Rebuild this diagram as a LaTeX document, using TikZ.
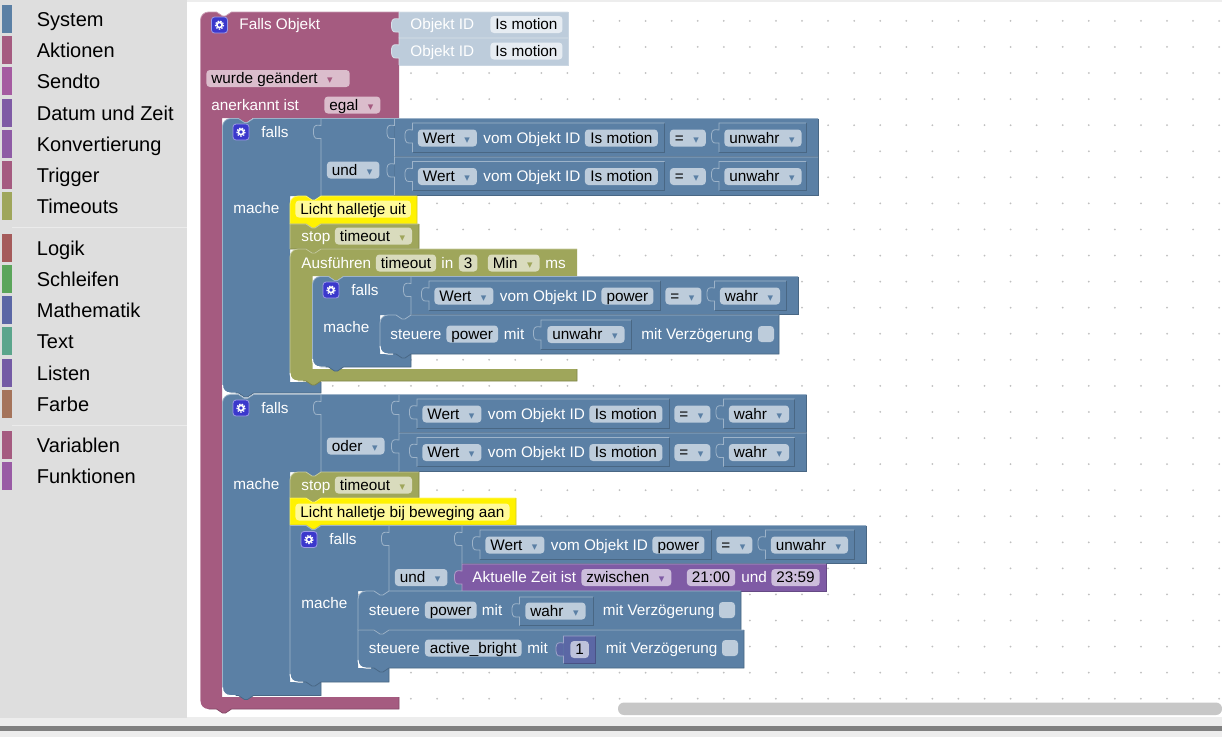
\documentclass[tikz,border=0pt]{standalone}
\usepackage{fontspec}
\setmainfont{Liberation Sans}
\newfontfamily\arrowfont{DejaVu Sans}
\usepackage{tikz}
\definecolor{blockblue}{HTML}{5B80A5}
\definecolor{blockmauve}{HTML}{A55B80}
\definecolor{blockolive}{HTML}{9FA65B}
\definecolor{blockpurple}{HTML}{7F5BA5}
\definecolor{blocknumber}{HTML}{5B67A5}
\definecolor{catsendto}{HTML}{A55BA1}
\definecolor{catconvert}{HTML}{8E5BA5}
\definecolor{catlogic}{HTML}{A55B5B}
\definecolor{catloop}{HTML}{5BA55B}
\definecolor{cattext}{HTML}{5BA58C}
\definecolor{catlist}{HTML}{745BA5}
\definecolor{catcolour}{HTML}{A5745B}
\definecolor{catfunc}{HTML}{995BA5}
\definecolor{gearfill}{HTML}{3B38CC}
\newcommand{\dropmark}[1]{\makebox[17pt][r]{\textcolor{#1}{\arrowfont\fontsize{11}{11}\selectfont ▾}\hspace*{2pt}}}
\newcommand{\topnotch}[2]{-- (#1+16,#2) -- (#1+22,#2+4) -- (#1+25,#2+4) -- (#1+31,#2)}
\newcommand{\bottomnotch}[2]{-- (#1+31,#2) -- (#1+25,#2+4) -- (#1+22,#2+4) -- (#1+16,#2)}
\newcommand{\category}[4]{
  \fill[#3] (2,#2-14) rectangle (12,#2+14);
  \node[menutext] (#1) at (36.5,#2) {#4};}
\newcommand{\gearicon}[3]{
  \node[gearbox] (#1) at (#2,#3) {};
  \draw[white,line width=1.6] (#2,#3) circle (2.6);
  \draw[white,line width=1.2,dash pattern=on 1.5pt off 1.3pt] (#2,#3) circle (4.1);}
\newcommand{\cornerglow}[2]{\draw[white,line width=1] (#1,#2-8) .. controls (#1,#2-3) and (#1+3,#2) .. (#1+8,#2) -- (#1+13,#2);}
\def\darkmix{black}
\newcommand{\valueblock}[5]{
  \fill[#1] (#2,#3+7) .. controls (#2-4,#3+6.5) and (#2-7,#3+6) .. (#2-7.5,#3+11) .. controls (#2-8,#3+16) and (#2-7,#3+21) .. (#2-3,#3+20) -- (#2,#3+20) -- cycle;
  \fill[#1] (#2,#3) rectangle (#4,#5);
  \draw[#1!80!\darkmix] (#4,#3) -- (#4,#5) -- (#2,#5);
  \draw[#1!60!white] (#2,#5) -- (#2,#3+20) -- (#2-3,#3+20) .. controls (#2-7,#3+21) and (#2-8,#3+16) .. (#2-7.5,#3+11) .. controls (#2-7,#3+6) and (#2-4,#3+6.5) .. (#2,#3+7) -- (#2,#3) -- (#4,#3);}
\newcommand{\stackblock}[7]{
  \fill[#1] (#2,#3+#6) .. controls (#2,#3+.45*#6) and (#2+.45*#6,#3) .. (#2+#6,#3) \topnotch{#2}{#3} -- (#4,#3) -- (#4,#5) \bottomnotch{#2}{#5} -- (#2+#7,#5) .. controls (#2+.45*#7,#5) and (#2,#5-.45*#7) .. (#2,#5-#7) -- cycle;
  \draw[#1!60!white] (#2,#5-#7) -- (#2,#3+#6) .. controls (#2,#3+.45*#6) and (#2+.45*#6,#3) .. (#2+#6,#3) \topnotch{#2}{#3} -- (#4,#3);
  \draw[#1!80!black] (#4,#3) -- (#4,#5) \bottomnotch{#2}{#5} -- (#2+#7,#5);}
\def\topr{8}
\newcommand{\cblock}[9]{
  \fill[#1] (#2,#3+\topr) .. controls (#2,#3+.45*\topr) and (#2+.45*\topr,#3) .. (#2+\topr,#3) \topnotch{#2}{#3} -- (#4,#3) -- (#4,#5) \bottomnotch{#6}{#5} -- (#6,#5) -- (#6,#7) -- (#8,#7) -- (#8,#9) \bottomnotch{#2}{#9} -- (#2+8,#9) .. controls (#2+3.6,#9) and (#2,#9-3.6) .. (#2,#9-8) -- cycle;
  \draw[#1!60!white] (#2,#9-8) -- (#2,#3+\topr) .. controls (#2,#3+.45*\topr) and (#2+.45*\topr,#3) .. (#2+\topr,#3) \topnotch{#2}{#3} -- (#4,#3);
  \draw[#1!80!black] (#8,#7) -- (#8,#9) \bottomnotch{#2}{#9} -- (#2+8,#9);}
\newcommand{\wertrow}[7]{
  \valueblock{blockblue}{#2}{#3}{#7}{#3+38}
  \valueblock{blockblue}{#2+18}{#3+4.5}{#2+197+#5}{#3+33.5}
  \node[bluepill] (#1wert) at (#2+23,#3+19.5) {Wert\dropmark{blockblue}};
  \node[lbl] (#1vom) at (#2+88.5,#3+19.5) {vom Objekt ID};
  \node[bluepill,minimum width=#5] (#1id) at (#2+190,#3+19.5) {#4};
  \node[bluepill] (#1eq) at (#2+202+#5,#3+19.5) {=\dropmark{blockblue}};
  \valueblock{blockblue}{#2+251.5+#5}{#3+4.5}{#7-12}{#3+33.5}
  \node[bluepill] (#1bool) at (#2+256.5+#5,#3+19.5) {#6\dropmark{blockblue}};}

\begin{document}
\begin{tikzpicture}[x=1pt,y=-1pt,line width=.8pt,font=\fontsize{15.3}{18}\selectfont]
        %
        % `lbl' is the white text on a block, `pill' its light fields.
        \tikzstyle{lbl} = [text=white,anchor=west,inner sep=0pt,text height=12pt,text depth=2pt]
        \tikzstyle{pill} = [text=black,anchor=west,inner ysep=1.5pt,inner xsep=5pt,text height=12pt,text depth=2pt,rounded corners=3.5pt]
        \tikzstyle{bluepill} = [pill,fill=blockblue!40!white]
        \tikzstyle{mauvepill} = [pill,fill=blockmauve!40!white]
        \tikzstyle{olivepill} = [pill,fill=blockolive!40!white]
        \tikzstyle{purplepill} = [pill,fill=blockpurple!40!white]
        \tikzstyle{notepill} = [pill,fill=yellow!40!white]
        \tikzstyle{shadowpill} = [pill,fill=blockblue!15!white]
        \tikzstyle{tickbox} = [fill=blockblue!40!white,rounded corners=3.5pt,minimum size=16pt,inner sep=0pt]
        \tikzstyle{gearbox} = [fill=gearfill,draw=gearfill!50!white,rounded corners=3pt,minimum size=16pt,inner sep=0pt]
        \tikzstyle{menutext} = [text=black,anchor=west,inner sep=0pt,font=\fontsize{20}{24}\selectfont,text height=16pt,text depth=1.5pt]
        %
        \useasboundingbox (0,0) rectangle (1222,737);
        % Page
        \fill[white!93!black] (0,0) rectangle (1222,737);
        \fill[white] (187,2) rectangle (1222,717);
        \fill[white!87!black] (0,0) rectangle (187,718);
        \fill[white!50!black] (0,726) rectangle (1222,731);
        \foreach \i in {0,...,39}
            \foreach \j in {0,...,26}
                \fill[white!75!black] (202.4+26.07*\i,20.9+26.07*\j) circle (1);
        %
        % Menu
        \category{system}{19}{blockblue}{System}
        \category{aktionen}{50}{blockmauve}{Aktionen}
        \category{sendto}{81}{catsendto}{Sendto}
        \category{datum}{113}{blockpurple}{Datum und Zeit}
        \category{konvert}{144}{catconvert}{Konvertierung}
        \category{trigger}{175}{blockmauve}{Trigger}
        \category{timeouts}{206}{blockolive}{Timeouts}
        \draw[white!92!black] (12,227.5) -- (187,227.5);
        \category{logik}{248}{catlogic}{Logik}
        \category{schleifen}{279}{catloop}{Schleifen}
        \category{mathe}{310}{blocknumber}{Mathematik}
        \category{textcat}{341}{cattext}{Text}
        \category{listen}{373}{catlist}{Listen}
        \category{farbe}{404}{catcolour}{Farbe}
        \draw[white!92!black] (12,425) -- (187,425);
        \category{variablen}{445}{blockmauve}{Variablen}
        \category{funktionen}{476}{catfunc}{Funktionen}
        %
        % Scrollbar
        \fill[white!78!black,rounded corners=6pt] (618,702.5) rectangle (1222,715);
        %
        % Falls Objekt
        \cblock{blockmauve}{200.5}{12}{399}{118}{222}{697}{399}{709}
        \gearicon{gearobjekt}{219.5}{25}
        \node[lbl] (fallsobjekt) at (239,24) {Falls Objekt};
        \def\darkmix{white}
        \valueblock{blockblue!40!white}{399}{12}{568}{38}
        \valueblock{blockblue!40!white}{399}{38}{568}{65}
        \def\darkmix{black}
        \node[lbl] (objektid1) at (410,24) {Objekt ID};
        \node[shadowpill,minimum width=72] (motion1) at (490,24.5) {Is motion};
        \node[lbl] (objektid2) at (410,51) {Objekt ID};
        \node[shadowpill,minimum width=72] (motion2) at (490,51) {Is motion};
        \node[mauvepill] (geaendert) at (206,78.5) {wurde geändert\dropmark{blockmauve}\hspace*{10pt}};
        \node[lbl] (anerkannt) at (211,105) {anerkannt ist};
        \node[mauvepill] (egal) at (324,105) {egal\dropmark{blockmauve}};
        %
        % First falls
        \cblock{blockblue}{222.5}{118.5}{321}{196}{290}{382}{321}{393}
        \cornerglow{222.5}{393}
        \gearicon{gearfalls1}{241}{132}
        \node[lbl] (falls1) at (261,132) {falls};
        \node[lbl] (mache1) at (233,208) {mache};
        \valueblock{blockblue}{321}{118.5}{394.5}{196}
        \node[bluepill] (und1) at (326.5,170) {und\dropmark{blockblue}};
        \wertrow{rowa}{394.5}{118.5}{Is motion}{73}{unwahr}{818}
        \wertrow{rowb}{394.5}{157}{Is motion}{73}{unwahr}{818}
        %
        % Timeout of the first falls
        \stackblock{yellow}{290}{196}{417}{224}{8}{0}
        \node[notepill] (note1) at (295,209) {Licht halletje uit};
        \stackblock{blockolive}{290}{224}{419}{249}{0}{0}
        \node[lbl] (stop1) at (301,236) {stop};
        \node[olivepill] (timeout1) at (334.5,236) {timeout\dropmark{blockolive}};
        \cblock{blockolive}{290}{249}{577}{276}{312.5}{369}{577}{381}
        \cornerglow{290}{381}
        \node[lbl] (ausfuehren) at (301,263) {Ausführen};
        \node[olivepill] (timeout2) at (375.5,263) {timeout};
        \node[lbl] (inlabel) at (441,263) {in};
        \node[olivepill] (drei) at (458.5,263) {3};
        \node[olivepill] (minuten) at (487.5,263) {Min\dropmark{blockolive}};
        \node[lbl] (ms) at (545,263) {ms};
        %
        % Falls inside the timeout
        \cblock{blockblue}{312.5}{276.5}{411}{315}{380}{354}{411}{367}
        \cornerglow{312.5}{367}
        \gearicon{gearfalls2}{331}{290}
        \node[lbl] (falls2) at (351,290) {falls};
        \node[lbl] (mache2) at (323,327) {mache};
        \wertrow{rowc}{411}{276.5}{power}{52}{wahr}{798}
        \stackblock{blockblue}{380}{315}{779}{354}{8}{8}
        \cornerglow{380}{354}
        \node[lbl] (steuere1) at (390,334) {steuere};
        \node[bluepill] (power1) at (446,334) {power};
        \node[lbl] (mit1) at (503.5,334) {mit};
        \valueblock{blockblue}{541}{320}{631}{349}
        \node[bluepill] (unwahr1) at (547,334.5) {unwahr\dropmark{blockblue}};
        \node[lbl] (delay1) at (641,334) {mit Verzögerung};
        \node[tickbox] (tick1) at (766,334) {};
        %
        % Second falls
        \cblock{blockblue}{222.5}{394.5}{321}{472}{290}{682}{321}{695.5}
        \cornerglow{222.5}{695.5}
        \gearicon{gearfalls3}{241}{408}
        \node[lbl] (falls3) at (261,408) {falls};
        \node[lbl] (mache3) at (233,484) {mache};
        \valueblock{blockblue}{321}{394.5}{399}{472}
        \node[bluepill] (oder) at (326.5,446) {oder\dropmark{blockblue}};
        \wertrow{rowd}{399}{394.5}{Is motion}{73}{wahr}{806.5}
        \wertrow{rowe}{399}{433}{Is motion}{73}{wahr}{806.5}
        %
        % Timeout of the second falls
        \stackblock{blockolive}{290}{472}{419}{498}{8}{0}
        \node[lbl] (stop2) at (301,485) {stop};
        \node[olivepill] (timeout3) at (334.5,485) {timeout\dropmark{blockolive}};
        \stackblock{yellow}{290}{498}{516}{525}{0}{0}
        \node[notepill] (note2) at (295,512) {Licht halletje bij beweging aan};
        %
        % Falls below the note
        \def\topr{0}
        \cblock{blockblue}{290}{525.5}{389}{591}{358}{668}{389}{682}
        \cornerglow{290}{682}
        \gearicon{gearfalls4}{309}{539.5}
        \node[lbl] (falls4) at (329,539) {falls};
        \node[lbl] (mache4) at (301,603) {mache};
        \valueblock{blockblue}{389}{525.5}{462}{591}
        \node[bluepill] (und2) at (394.5,577.5) {und\dropmark{blockblue}};
        \wertrow{rowf}{462}{525.5}{power}{52}{unwahr}{866}
        \valueblock{blockpurple}{462}{564}{826}{591}
        \node[lbl] (zeit) at (472,577.5) {Aktuelle Zeit ist};
        \node[purplepill] (zwischen) at (581,577.5) {zwischen\dropmark{blockpurple}};
        \node[purplepill] (von) at (686.5,577.5) {21:00};
        \node[lbl] (und3) at (741,577.5) {und};
        \node[purplepill] (bis) at (771,577.5) {23:59};
        %
        % Steuere power
        \stackblock{blockblue}{358}{591}{741}{630}{8}{0}
        \node[lbl] (steuere2) at (368.5,610) {steuere};
        \node[bluepill] (power2) at (424.5,610) {power};
        \node[lbl] (mit2) at (481.5,610) {mit};
        \valueblock{blockblue}{519.5}{597}{593}{625.5}
        \node[bluepill] (wahr2) at (525,611) {wahr\dropmark{blockblue}};
        \node[lbl] (delay2) at (602.5,610) {mit Verzögerung};
        \node[tickbox] (tick2) at (727,610) {};
        %
        % Steuere active_bright
        \stackblock{blockblue}{358}{630}{744}{668}{0}{8}
        \cornerglow{358}{668}
        \node[lbl] (steuere3) at (368.5,648) {steuere};
        \node[bluepill] (active) at (424.5,648) {active\_bright};
        \node[lbl] (mit3) at (527,648) {mit};
        \valueblock{blocknumber}{563.5}{636}{595.5}{663}
        \node[pill,fill=blocknumber!40!white] (eins) at (570,649.5) {1};
        \node[lbl] (delay3) at (605.5,648) {mit Verzögerung};
        \node[tickbox] (tick3) at (730,648) {};
        %
\end{tikzpicture}
\end{document}
